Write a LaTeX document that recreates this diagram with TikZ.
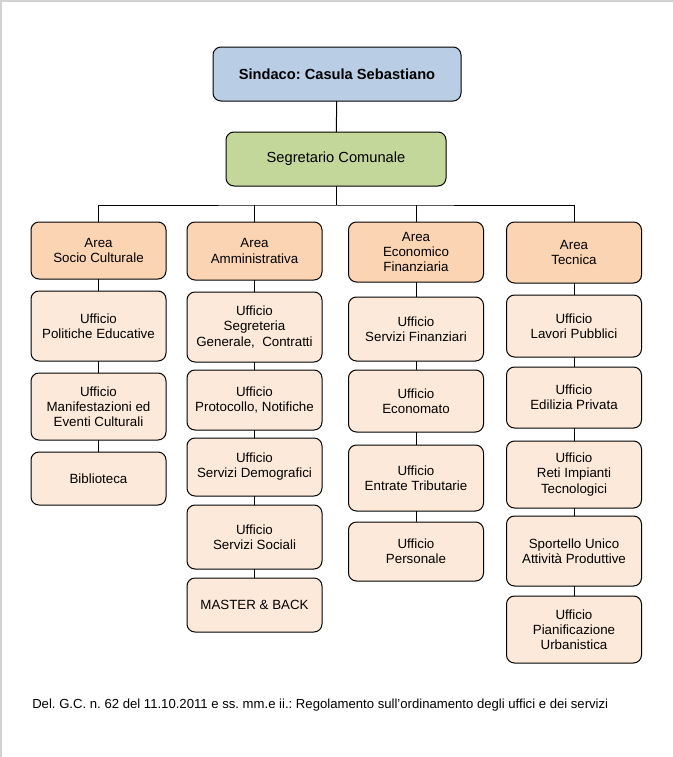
\documentclass[tikz,border=0pt]{standalone}
\usepackage{fontspec}
\setmainfont{Liberation Sans}
\usepackage{tikz}
\usetikzlibrary{positioning}
\definecolor{sindaco}{RGB}{185,205,229}
\definecolor{segret}{RGB}{196,215,155}
\definecolor{areafill}{RGB}{251,212,180}
\definecolor{uffill}{RGB}{253,233,217}
\frenchspacing

\begin{document}
\begin{tikzpicture}[x=0.75pt, y=-0.75pt,
  box/.style={draw, rounded corners=6pt, minimum width=101.25pt, align=center, inner sep=2pt, outer sep=0pt, line width=0.75pt, font=\fontsize{10}{11.3}\selectfont},
  headbox/.style={box, minimum height=40.5pt, font=\fontsize{11}{13}\selectfont},
  areabox/.style={box, fill=areafill},
  ufficio/.style={box, fill=uffill},
  conn/.style={line width=0.75pt}
]
\useasboundingbox (0,0) rectangle (673,757);
\draw[gray!35, line width=1.5pt] (1,757) -- (1,1) -- (673,1);

\node[headbox, fill=sindaco, minimum width=186pt, font=\fontsize{11}{13}\selectfont\bfseries] (sindaco) at (337,74) {Sindaco: Casula Sebastiano};
\node[headbox, fill=segret, minimum width=165pt] (segr) at (336,159) {Segretario Comunale};
\coordinate (bus) at (336,205);

% aree
\node[areabox, anchor=north, minimum height=42.75pt] (asoc) at (98.5,222) {Area\\Socio Culturale};
\node[areabox, anchor=north, minimum height=43.5pt] (aamm) at (254.5,222) {Area\\Amministrativa};
\node[areabox, anchor=north, minimum height=45pt] (aeco) at (416,222) {Area\\Economico\\Finanziaria};
\node[areabox, anchor=north, minimum height=45.75pt] (atec) at (574,222) {Area\\Tecnica};

% socio culturale
\node[ufficio, below=9pt of asoc, minimum height=52.5pt] (upol) {Ufficio\\Politiche Educative};
\node[ufficio, below=9pt of upol, minimum height=50.25pt] (uman) {Ufficio\\Manifestazioni ed\\Eventi Culturali};
\node[ufficio, below=9pt of uman, minimum height=39.75pt] (ubib) {Biblioteca};

% amministrativa
\node[ufficio, below=9pt of aamm, minimum height=52.5pt] (useg) {Ufficio\\Segreteria\\Generale,\ \ Contratti};
\node[ufficio, below=6pt of useg, minimum height=45pt] (uprot) {Ufficio\\Protocollo, Notifiche};
\node[ufficio, below=6pt of uprot, minimum height=43.5pt] (udem) {Ufficio\\Servizi Demografici};
\node[ufficio, below=6.75pt of udem, minimum height=48pt] (usoc) {Ufficio\\Servizi Sociali};
\node[ufficio, below=6.75pt of usoc, minimum height=40.5pt] (umast) {MASTER \& BACK};

% economico finanziaria
\node[ufficio, below=11.25pt of aeco, minimum height=48pt] (ufin) {Ufficio\\Servizi Finanziari};
\node[ufficio, below=6.75pt of ufin, minimum height=46.5pt] (uecon) {Ufficio\\Economato};
\node[ufficio, below=9.75pt of uecon, minimum height=49.5pt] (uentr) {Ufficio\\Entrate Tributarie};
\node[ufficio, below=8.25pt of uentr, minimum height=44.25pt] (upers) {Ufficio\\Personale};

% tecnica
\node[ufficio, below=9pt of atec, minimum height=46.5pt] (ulav) {Ufficio\\Lavori Pubblici};
\node[ufficio, below=7.5pt of ulav, minimum height=45.75pt] (uedil) {Ufficio\\Edilizia Privata};
\node[ufficio, below=9.75pt of uedil, minimum height=50.25pt] (ureti) {Ufficio\\Reti Impianti\\Tecnologici};
\node[ufficio, below=6pt of ureti, minimum height=52.5pt] (usport) {Sportello Unico\\Attività Produttive};
\node[ufficio, below=7.5pt of usport, minimum height=50.25pt] (upian) {Ufficio\\Pianificazione\\Urbanistica};

\node[font=\fontsize{9.85}{11}\selectfont, anchor=base west, inner sep=0pt] (delibera) at (32,708) {Del. G.C. n. 62 del 11.10.2011 e ss. mm.e ii.: Regolamento sull'ordinamento degli uffici e dei servizi};

\draw[conn] (sindaco) -- (segr);
\draw[conn] (segr) -- (bus);
\draw[conn] (asoc.north) |- (bus) -| (atec.north);
\draw[conn] (aamm.north) -- (aamm.north |- bus);
\draw[conn] (aeco.north) -- (aeco.north |- bus);

\draw[conn] (asoc) -- (upol);
\draw[conn] (upol) -- (uman);
\draw[conn] (uman) -- (ubib);
\draw[conn] (aamm) -- (useg);
\draw[conn] (useg) -- (uprot);
\draw[conn] (uprot) -- (udem);
\draw[conn] (udem) -- (usoc);
\draw[conn] (usoc) -- (umast);
\draw[conn] (aeco) -- (ufin);
\draw[conn] (ufin) -- (uecon);
\draw[conn] (uecon) -- (uentr);
\draw[conn] (uentr) -- (upers);
\draw[conn] (atec) -- (ulav);
\draw[conn] (ulav) -- (uedil);
\draw[conn] (uedil) -- (ureti);
\draw[conn] (ureti) -- (usport);
\draw[conn] (usport) -- (upian);
\end{tikzpicture}
\end{document}
